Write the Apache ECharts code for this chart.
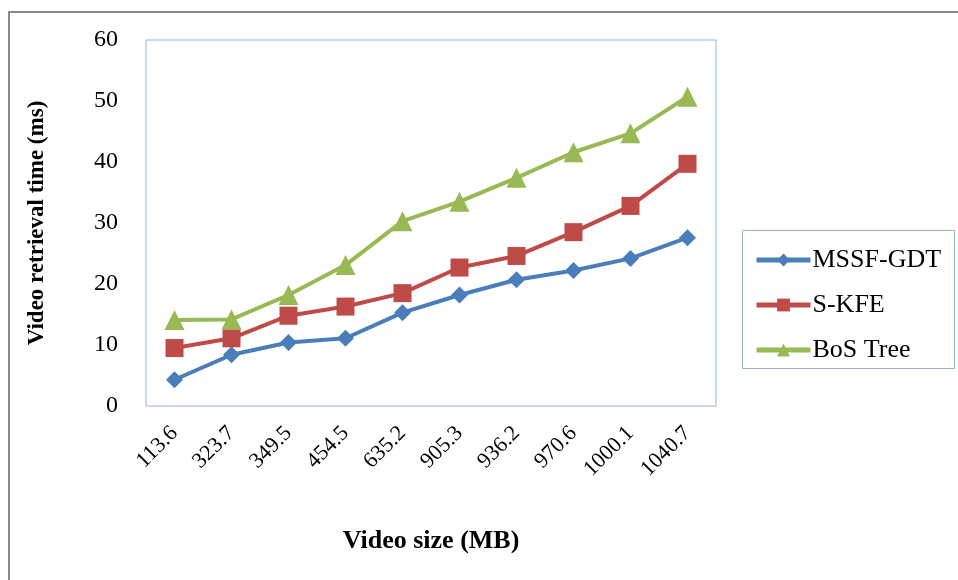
<!DOCTYPE html>
<html><head><meta charset="utf-8">
<script src="https://cdn.jsdelivr.net/npm/echarts@6/dist/echarts.min.js"></script>
<style>html,body{margin:0;padding:0;background:#fff}#c{width:958px;height:580px}</style>
</head><body><div id="c"></div>
<script>
const categories = ['113.6','323.7','349.5','454.5','635.2','905.3','936.2','970.6','1000.1','1040.7'];
const mssfGdt = [4.3, 8.4, 10.4, 11.1, 15.3, 18.2, 20.7, 22.2, 24.2, 27.6];
const sKfe = [9.5, 11.1, 14.8, 16.3, 18.5, 22.7, 24.6, 28.5, 32.8, 39.7];
const bosTree = [14.1, 14.2, 18.2, 23.1, 30.3, 33.5, 37.4, 41.6, 44.7, 50.7];
const yTicks = [0, 10, 20, 30, 40, 50, 60];

const chart = echarts.init(document.getElementById('c'), null, {renderer:'canvas'});
const serif = '"Liberation Serif", "Times New Roman", serif';
function mk(name, data, color, symbol, size){
  return {name, type:'line', data, symbol, symbolSize:size, showSymbol:true,
    lineStyle:{color, width:4}, itemStyle:{color}, color, animation:false};
}
chart.setOption({
  animation:false,
  graphic:[
    {type:'rect', shape:{x:9, y:12, width:1000, height:600}, style:{fill:'none', stroke:'#8a8a8a', lineWidth:2}, z:-1},
    {type:'rect', shape:{x:742.5, y:230.5, width:212, height:138}, style:{fill:'none', stroke:'#95b3d7', lineWidth:1}}
  ],
  grid:{left:146, top:40, width:570, height:366, show:true, borderColor:'#95b3d7', borderWidth:1, containLabel:false},
  legend:{orient:'vertical', left:749, top:241, itemWidth:54, itemHeight:16, itemGap:17,
    lineStyle:{width:5},
    textStyle:{fontFamily:serif, fontSize:26, color:'#000', lineHeight:28, padding:[0,0,0,-3]},
    data:['MSSF-GDT','S-KFE','BoS Tree']},
  xAxis:{type:'category', data:categories, boundaryGap:true,
    axisLine:{show:false}, axisTick:{show:false}, splitLine:{show:false},
    axisLabel:{rotate:45, margin:24, fontFamily:serif, fontSize:22, color:'#000', interval:0},
    name:'Video size (MB)', nameLocation:'middle', nameGap:122,
    nameTextStyle:{fontFamily:serif, fontSize:26, fontWeight:'bold', color:'#000'}},
  yAxis:{type:'value', min:0, max:60, interval:10,
    axisLine:{show:false}, axisTick:{show:false}, splitLine:{show:false},
    axisLabel:{margin:28, fontFamily:serif, fontSize:24, color:'#000',
      formatter:v=> yTicks.includes(v) ? String(v) : ''},
    name:'Video retrieval time (ms)', nameLocation:'middle', nameGap:97,
    nameTextStyle:{fontFamily:serif, fontSize:23, fontWeight:'bold', color:'#000'}},
  series:[
    mk('MSSF-GDT', mssfGdt, '#4a7ebb', 'diamond', 17),
    mk('S-KFE', sKfe, '#be4b48', 'rect', 18),
    mk('BoS Tree', bosTree, '#98b954', 'triangle', 20)
  ]
});
</script></body></html>
